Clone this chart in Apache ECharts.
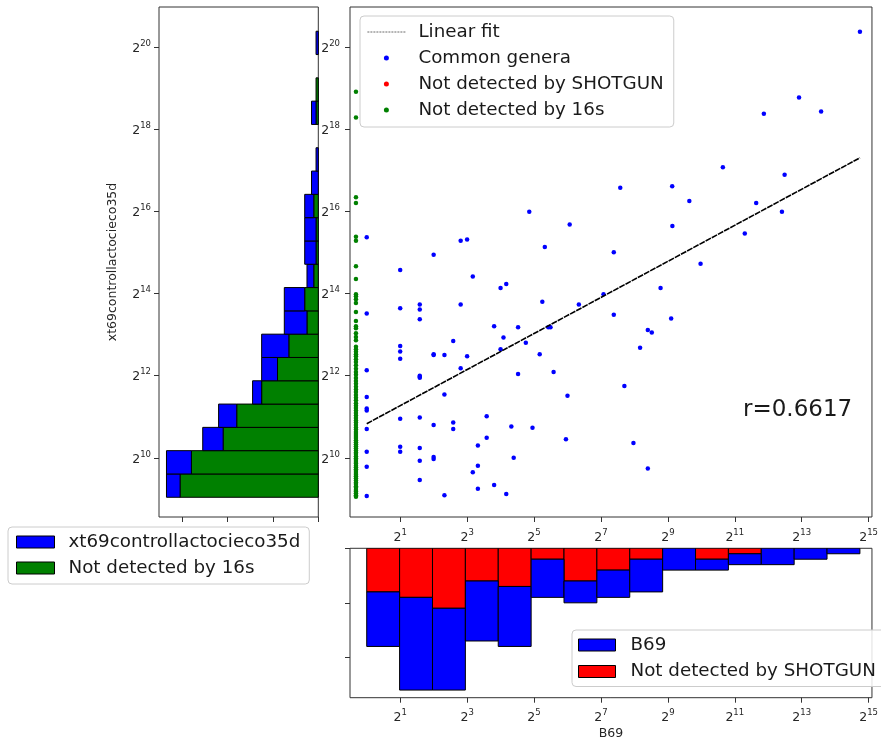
<!DOCTYPE html>
<html><head><meta charset="utf-8">
<script src="https://cdn.jsdelivr.net/npm/echarts@6/dist/echarts.min.js"></script>
<style>html,body{margin:0;padding:0;background:#fff}#c{width:881px;height:742px}</style>
</head><body><div id="c"></div>
<script>
// ---------------- DATA ----------------
// Scatter: "Common genera" (x = B69 raw count, y = log2 of xt69controllactocieco35d)
const commonX = [1,1,1,1,1,1,1,1,1,1,
  2,2,2,2,2,2,2,2,
  3,3,3,3,3,3,3,3,3,3,
  4,4,4,4,4,4,
  5,5,5, 6,6,6, 7,7,7, 8,8, 9,9, 10,10,10, 12,12, 14,14, 16,16, 17, 18,18, 20, 21, 23,23,
  27, 29, 31, 36, 38, 40, 43, 45, 48, 62, 64, 67, 81, 135, 167, 167, 208, 251, 288, 338, 367, 338,
  440, 548, 562, 799, 1008, 2520, 3190, 5440, 27370, 7750, 3740, 12250, 1600, 5750, 191, 560];
const commonYLog2 = [15.37,13.51,12.13,11.48,11.20,11.15,10.70,10.15,9.78,9.07,
  14.57,13.64,12.72,12.59,12.41,10.95,10.27,10.15,
  13.73,13.61,13.37,12.00,11.97,11.95,10.98,10.24,9.93,9.46,
  14.94,12.52,12.50,10.80,10.02,9.97,
  12.50,11.54,9.09, 12.84,10.86,10.70, 15.28,13.73,12.18, 15.31,12.47, 14.41,9.65, 10.30,9.81,9.25,
  11.01,10.49, 13.20,9.34, 14.13,12.64, 12.93, 14.23,9.12, 10.76, 10.00, 13.18,12.04,
  12.80, 15.99, 10.73, 12.52, 13.80, 15.13, 13.18, 13.18, 12.09, 10.45, 11.51, 15.68, 13.73, 13.98,
  15.00, 13.48, 11.75, 10.36, 12.68, 13.11, 13.05, 9.74,
  14.13, 13.39, 15.64, 16.25, 14.72, 15.46, 16.20, 15.99, 20.37, 18.77, 18.37, 18.43, 17.07, 16.89, 16.57, 16.61];
// "Not detected by 16s": plotted at x = 0.8
const notDet16sX = 0.8;
const notDet16sYLog2 = [9.05,9.09,9.14,9.18,9.22,9.27,9.31,9.36,9.40,9.45,9.50,9.55,9.59,9.63,9.68,9.72,
  9.77,9.81,9.86,9.90,9.95,9.99,10.04,10.09,10.13,10.18,10.23,10.28,10.33,10.38,10.43,10.48,10.53,
  10.58,10.63,10.69,10.74,10.80,10.86,10.91,10.97,11.03,11.09,11.15,11.21,11.27,11.33,11.40,11.46,
  11.53,11.60,11.66,11.73,11.80,11.87,11.94,12.02,12.09,12.17,12.25,12.33,12.40,12.47,
  12.52,12.58,12.64,12.70,12.86,12.94,13.03,13.15,13.20,13.33,13.55,13.77,13.86,13.93,13.98,
  14.35,14.66,15.28,15.38,16.20,16.34,18.28,18.91];
// "Not detected by SHOTGUN": falls below the visible y range
const notDetShotgunX = [];
const notDetShotgunYLog2 = [];
// Linear fit end points
const fitX = [1, 27370];
const fitYLog2 = [10.83, 17.30];
const rText = 'r=0.6617';

// Left histogram (y bins in log2 space)
const leftBinStartLog2 = 9.04, leftBinEndLog2 = 20.38, leftBinCount = 20;
const leftGreenCounts = [61,56,42,36,25,18,13,5,6,2,1,1,2,0,0,0,1,1,0,0];
const leftBlueCounts  = [6,11,9,8,4,7,12,10,9,3,5,5,4,3,1,0,2,0,0,1];
// Bottom histogram (x bins in log2 space)
const bottomBinStartLog2 = 0, bottomBinEndLog2 = 14.74, bottomBinCount = 15;
const bottomRedCounts  = [8,9,11,6,7,2,6,4,2,0,2,1,0,0,0];
const bottomBlueCounts = [10,17,15,11,11,7,4,5,6,4,2,2,3,2,1];

// Ticks
const xTickExps = [1,3,5,7,9,11,13,15];
const yTickExps = [10,12,14,16,18,20];
const leftHistTicks = [0,20,40,60];
const bottomHistTicks = [0,10,20];

// ---------------- BUILD ----------------
const FONT = 'DejaVu Sans';
const TXT = '#262626';
const AX = '#333333';
const supFmt = v => '{b|2}{s|' + Math.round(v) + '}';
const supRich = {
  b: {fontSize: 12.5, fontFamily: FONT, color: TXT, verticalAlign: 'bottom', lineHeight: 16},
  s: {fontSize: 8.5, fontFamily: FONT, color: TXT, verticalAlign: 'top', lineHeight: 8}
};

function stacked(start, end, n, baseCounts, topCounts) {
  const w = (end - start) / n;
  const base = [], top = [];
  for (let i = 0; i < n; i++) {
    const lo = start + i * w, hi = start + (i + 1) * w;
    if (baseCounts[i] > 0) base.push([lo, hi, 0, baseCounts[i]]);
    if (topCounts[i] > 0) top.push([lo, hi, baseCounts[i], baseCounts[i] + topCounts[i]]);
  }
  return {base, top};
}
const leftH = stacked(leftBinStartLog2, leftBinEndLog2, leftBinCount, leftGreenCounts, leftBlueCounts);
const botH = stacked(bottomBinStartLog2, bottomBinEndLog2, bottomBinCount, bottomRedCounts, bottomBlueCounts);

function rectRenderer(horizontal, color) {
  return function (params, api) {
    const lo = api.value(0), hi = api.value(1), c0 = api.value(2), c1 = api.value(3);
    let p1, p2;
    if (horizontal) { p1 = api.coord([c0, lo]); p2 = api.coord([c1, hi]); }
    else { p1 = api.coord([lo, c0]); p2 = api.coord([hi, c1]); }
    return {
      type: 'rect',
      shape: {x: Math.min(p1[0], p2[0]), y: Math.min(p1[1], p2[1]),
              width: Math.abs(p2[0] - p1[0]), height: Math.abs(p2[1] - p1[1])},
      style: {fill: color, stroke: '#000', lineWidth: 1}
    };
  };
}

const gridStyle = {show: true, borderColor: AX, borderWidth: 1, backgroundColor: 'transparent'};
const noLine = {show: false, onZero: false};
const tick = vals => ({show: true, inside: false, length: 5, lineStyle: {color: AX, width: 1}, customValues: vals});

const legendText = gap => ({fontSize: 18.3, fontFamily: FONT, color: '#1a1a1a', lineHeight: 20, padding: [0, 0, 0, gap]});
const rectIcon = c => ({color: c, borderColor: '#000', borderWidth: 1, opacity: 1});

const option = {
  animation: false,
  backgroundColor: '#fff',
  grid: [
    Object.assign({left: 350, top: 7, width: 532, height: 510}, gridStyle),
    Object.assign({left: 159, top: 7, width: 159.3, height: 510}, gridStyle),
    Object.assign({left: 350, top: 548.3, width: 532, height: 149.4}, gridStyle)
  ],
  xAxis: [
    {gridIndex: 0, type: 'value', min: -0.5, max: 15.1, axisLine: noLine, splitLine: {show: false},
     axisTick: tick(xTickExps),
     axisLabel: {customValues: xTickExps, formatter: supFmt, rich: supRich, margin: 11}},
    {gridIndex: 1, type: 'value', min: 0, max: 70.3, inverse: true, axisLine: noLine, splitLine: {show: false},
     axisTick: tick(leftHistTicks), axisLabel: {show: false}},
    {gridIndex: 2, type: 'value', min: -0.5, max: 15.1, axisLine: noLine, splitLine: {show: false},
     axisTick: tick(xTickExps),
     axisLabel: {customValues: xTickExps, formatter: supFmt, rich: supRich, margin: 11},
     name: 'B69', nameLocation: 'middle', nameGap: 30,
     nameTextStyle: {fontSize: 12.5, fontFamily: FONT, color: TXT}}
  ],
  yAxis: [
    {gridIndex: 0, type: 'value', min: 8.56, max: 20.97, axisLine: noLine, splitLine: {show: false},
     axisTick: tick(yTickExps),
     axisLabel: {customValues: yTickExps, formatter: supFmt, rich: supRich, margin: 10}},
    {gridIndex: 1, type: 'value', min: 8.56, max: 20.97, axisLine: noLine, splitLine: {show: false},
     axisTick: tick(yTickExps),
     axisLabel: {customValues: yTickExps, formatter: supFmt, rich: supRich, margin: 8},
     name: 'xt69controllactocieco35d', nameLocation: 'middle', nameRotate: 90, nameGap: 40,
     nameTextStyle: {fontSize: 12.5, fontFamily: FONT, color: TXT}},
    {gridIndex: 2, type: 'value', min: 0, max: 27.4, inverse: true, axisLine: noLine, splitLine: {show: false},
     axisTick: tick(bottomHistTicks), axisLabel: {show: false}}
  ],
  legend: [
    {selectedMode: false, orient: 'vertical', left: 360, top: 16, itemWidth: 38, itemHeight: 5, itemGap: 6,
     padding: [6, 10, 7, 7], backgroundColor: 'rgba(255,255,255,0.85)',
     borderColor: '#cccccc', borderWidth: 1, borderRadius: 4, textStyle: legendText(8),
     data: [
       {name: 'Linear fit', lineStyle: {type: [2, 1], width: 0.8, color: '#444'},
        itemStyle: {color: 'rgba(0,0,0,0)', borderColor: 'rgba(0,0,0,0)', borderWidth: 0}},
       {name: 'Common genera', icon: 'circle', itemStyle: {color: '#0000ff', borderWidth: 0, opacity: 1}},
       {name: 'Not detected by SHOTGUN', icon: 'circle', itemStyle: {color: '#ff0000', borderWidth: 0, opacity: 1}},
       {name: 'Not detected by 16s', icon: 'circle', itemStyle: {color: '#008000', borderWidth: 0, opacity: 1}}
     ]},
    {selectedMode: false, orient: 'vertical', left: 8, top: 527, itemWidth: 38, itemHeight: 12, itemGap: 6,
     padding: [5, 9, 6, 8], backgroundColor: '#fff',
     borderColor: '#cccccc', borderWidth: 1, borderRadius: 4, textStyle: legendText(9),
     data: [
       {name: 'xt69controllactocieco35d', icon: 'rect', itemStyle: rectIcon('#0000ff')},
       {name: 'Not detected by 16s', icon: 'rect', itemStyle: rectIcon('#008000')}
     ]},
    {selectedMode: false, orient: 'vertical', left: 572, top: 630, itemWidth: 37, itemHeight: 12, itemGap: 6.5,
     padding: [5, 10, 5, 6], backgroundColor: 'rgba(255,255,255,0.85)',
     borderColor: '#cccccc', borderWidth: 1, borderRadius: 4, textStyle: legendText(10),
     data: [
       {name: 'B69', icon: 'rect', itemStyle: rectIcon('#0000ff')},
       {name: 'Not detected by SHOTGUN', icon: 'rect', itemStyle: rectIcon('#ff0000')}
     ]}
  ],
  graphic: [
    {type: 'text', x: 743, y: 410, z: 100,
     style: {text: rText, fontSize: 23, fontFamily: FONT, fill: '#1a1a1a', align: 'left', verticalAlign: 'middle'}}
  ],
  series: [
    {name: 'Not detected by 16s', type: 'scatter', xAxisIndex: 0, yAxisIndex: 0, symbolSize: 4.5,
     itemStyle: {color: '#008000', opacity: 1}, z: 3,
     data: notDet16sYLog2.map(y => [Math.log2(notDet16sX), y])},
    {name: 'Not detected by SHOTGUN', type: 'scatter', xAxisIndex: 0, yAxisIndex: 0, symbolSize: 4.5,
     itemStyle: {color: '#ff0000', opacity: 1}, z: 3,
     data: notDetShotgunX.map((x, i) => [Math.log2(x), notDetShotgunYLog2[i]])},
    {name: 'Common genera', type: 'scatter', xAxisIndex: 0, yAxisIndex: 0, symbolSize: 4.5,
     itemStyle: {color: '#0000ff', opacity: 1}, z: 3,
     data: commonX.map((x, i) => [Math.log2(x), commonYLog2[i]])},
    {name: 'Linear fit', type: 'line', xAxisIndex: 0, yAxisIndex: 0, symbol: 'none', z: 4,
     lineStyle: {color: '#000', width: 1.6, type: [6, 1]},
     data: fitX.map((x, i) => [Math.log2(x), fitYLog2[i]])},
    {name: 'Not detected by 16s', type: 'custom', xAxisIndex: 1, yAxisIndex: 1, clip: true,
     itemStyle: {color: '#008000'}, encode: {x: [2, 3], y: [0, 1]},
     renderItem: rectRenderer(true, '#008000'), data: leftH.base},
    {name: 'xt69controllactocieco35d', type: 'custom', xAxisIndex: 1, yAxisIndex: 1, clip: true,
     itemStyle: {color: '#0000ff'}, encode: {x: [2, 3], y: [0, 1]},
     renderItem: rectRenderer(true, '#0000ff'), data: leftH.top},
    {name: 'Not detected by SHOTGUN', type: 'custom', xAxisIndex: 2, yAxisIndex: 2, clip: true,
     itemStyle: {color: '#ff0000'}, encode: {x: [0, 1], y: [2, 3]},
     renderItem: rectRenderer(false, '#ff0000'), data: botH.base},
    {name: 'B69', type: 'custom', xAxisIndex: 2, yAxisIndex: 2, clip: true,
     itemStyle: {color: '#0000ff'}, encode: {x: [0, 1], y: [2, 3]},
     renderItem: rectRenderer(false, '#0000ff'), data: botH.top}
  ]
};
const chart = echarts.init(document.getElementById('c'), null, {renderer: 'canvas'});
chart.setOption(option);
</script></body></html>
